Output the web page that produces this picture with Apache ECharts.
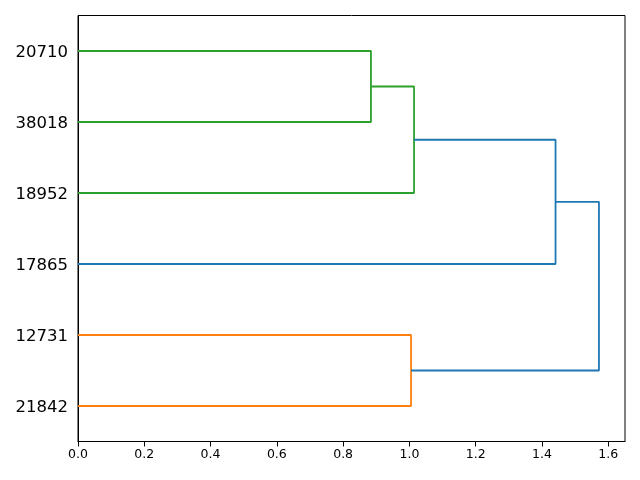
<!DOCTYPE html>
<html><head><meta charset="utf-8">
<script src="https://cdn.jsdelivr.net/npm/echarts@6/dist/echarts.min.js"></script>
<style>html,body{margin:0;padding:0;background:#fff}#c{width:640px;height:480px}</style>
</head><body><div id="c"></div>
<script>
// Leaves, bottom to top (scipy order)
const leafLabels = ['21842', '12731', '17865', '18952', '38018', '20710'];
// Merges: [childA, childB, height]; node ids: leaves 0..5, merges 6..
const mergeLeft   = [4, 3, 0, 2, 8];
const mergeRight  = [5, 6, 1, 7, 9];
const mergeHeight = [0.884, 1.014, 1.005, 1.441, 1.572];
const mergeColor  = ['#2ca02c', '#2ca02c', '#ff7f0e', '#1f77b4', '#1f77b4'];
const xTicks = [0, 0.2, 0.4, 0.6, 0.8, 1.0, 1.2, 1.4, 1.6];

const nLeaf = leafLabels.length;
const posY = [], posX = [];
for (let i = 0; i < nLeaf; i++) { posY.push(5 + 10 * i); posX.push(0); }
const series = [];
for (let k = 0; k < mergeHeight.length; k++) {
  const a = mergeLeft[k], b = mergeRight[k], h = mergeHeight[k];
  series.push({
    type: 'line', symbol: 'none', silent: true, animation: false,
    lineStyle: { color: mergeColor[k], width: 1.8 },
    data: [[posX[a], posY[a]], [h, posY[a]], [h, posY[b]], [posX[b], posY[b]]]
  });
  posY.push((posY[a] + posY[b]) / 2);
  posX.push(h);
}
const xMax = Math.max(...mergeHeight) * 1.05;

const chart = echarts.init(document.getElementById('c'), null, { renderer: 'canvas' });
chart.setOption({
  animation: false,
  backgroundColor: '#fff',
  grid: { left: 78, right: 15, top: 15.5, bottom: 38.5, show: true, borderColor: '#000', borderWidth: 1, backgroundColor: 'transparent' },
  xAxis: {
    type: 'value', min: 0, max: xMax,
    axisLine: { show: true, onZero: false, lineStyle: { color: '#000', width: 1 } },
    axisTick: { show: true, length: 5, lineStyle: { color: '#000' }, customValues: xTicks },
    splitLine: { show: false },
    axisLabel: {
      color: '#000', fontSize: 12.5, fontFamily: 'DejaVu Sans', margin: 7,
      customValues: xTicks,
      formatter: v => v.toFixed(1)
    }
  },
  yAxis: {
    type: 'value', min: 0, max: nLeaf * 10, interval: 5,
    axisLine: { show: true, onZero: false, lineStyle: { color: '#000', width: 1 } },
    axisTick: { show: false },
    splitLine: { show: false },
    axisLabel: {
      color: '#000', fontSize: 16.5, fontFamily: 'DejaVu Sans', margin: 10,
      rich: { a: { color: '#000', fontSize: 16.5, fontFamily: 'DejaVu Sans', padding: [4, 0, 0, 0] } },
      formatter: v => { const i = Math.round((v - 5) / 10); return (v % 10 === 5 && i >= 0 && i < nLeaf) ? '{a|' + leafLabels[i] + '}' : ''; }
    }
  },
  series: series
});
</script></body></html>
